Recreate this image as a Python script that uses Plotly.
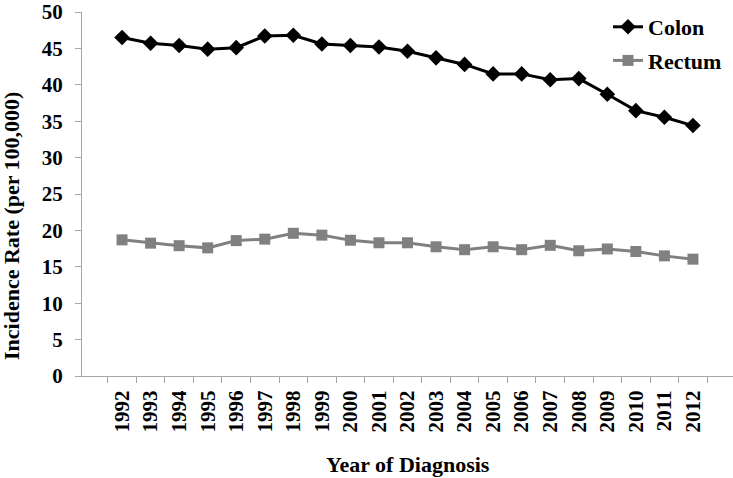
import plotly.graph_objects as go

years = [str(y) for y in range(1992, 2013)]
colon = [46.5, 45.7, 45.4, 44.9, 45.1, 46.7, 46.8, 45.6, 45.4, 45.2, 44.6,
         43.7, 42.8, 41.5, 41.5, 40.7, 40.85, 38.7, 36.45, 35.55, 34.4]
rectum = [18.7, 18.25, 17.9, 17.6, 18.6, 18.8, 19.6, 19.35, 18.65, 18.3, 18.3,
          17.75, 17.35, 17.75, 17.35, 17.95, 17.2, 17.45, 17.1, 16.5, 16.05]

font_family = "Liberation Serif"
axis_gray = "#a6a6a6"

fig = go.Figure()
fig.add_trace(go.Scatter(
    x=years, y=colon, name="Colon", mode="lines+markers", legendgroup="a",
    line=dict(color="black", width=3),
    marker=dict(symbol="diamond", size=12, color="black"),
))
fig.add_trace(go.Scatter(
    x=years, y=rectum, name="Rectum", mode="lines+markers", legendgroup="b",
    line=dict(color="#808080", width=3),
    marker=dict(symbol="square", size=11, color="#808080"),
))

L, R, T, B = 82, 0, 12, 102
W, H = 733, 478
pw, ph = W - L - R, H - T - B

fig.update_layout(
    width=W, height=H,
    margin=dict(l=L, r=R, t=T, b=B),
    paper_bgcolor="white", plot_bgcolor="white",
    font=dict(family=font_family, size=20, color="black", weight="bold"),
    showlegend=True,
    legend=dict(x=(608 - L) / pw, y=1.0 + 6 / ph, xanchor="left", yanchor="top",
                bgcolor="rgba(0,0,0,0)", font=dict(size=22, weight="bold"),
                itemwidth=30, traceorder="grouped", tracegroupgap=2),
    xaxis=dict(
        type="category", automargin=False,
        tickangle=-90, tickson="boundaries", ticks="outside", ticklen=6,
        ticklabelstandoff=5,
        tickcolor=axis_gray, showline=True, linecolor=axis_gray, linewidth=1,
        showgrid=False, tickfont=dict(size=21, weight="bold"),
    ),
    yaxis=dict(
        range=[0, 50], dtick=5, automargin=False, ticklabeloverflow="allow",
        ticks="outside", ticklen=6, ticklabelstandoff=8, tickcolor=axis_gray,
        showline=True, linecolor=axis_gray, linewidth=1, showgrid=False,
        zeroline=False, tickfont=dict(size=21, weight="bold"),
    ),
    annotations=[
        dict(text="Year of Diagnosis", xref="paper", yref="paper",
             x=0.5, y=(T + ph - 464) / ph, xanchor="center", yanchor="middle",
             showarrow=False, font=dict(size=22, weight="bold")),
        dict(text="Incidence Rate (per 100,000)", xref="paper", yref="paper",
             x=(11 - L) / pw, y=(T + ph - 226) / ph, xanchor="center", yanchor="middle",
             textangle=-90, showarrow=False, font=dict(size=22, weight="bold")),
    ],
)

fig.write_html("out.html", config={"displayModeBar": False},
               post_script="document.body.style.margin='0';")
